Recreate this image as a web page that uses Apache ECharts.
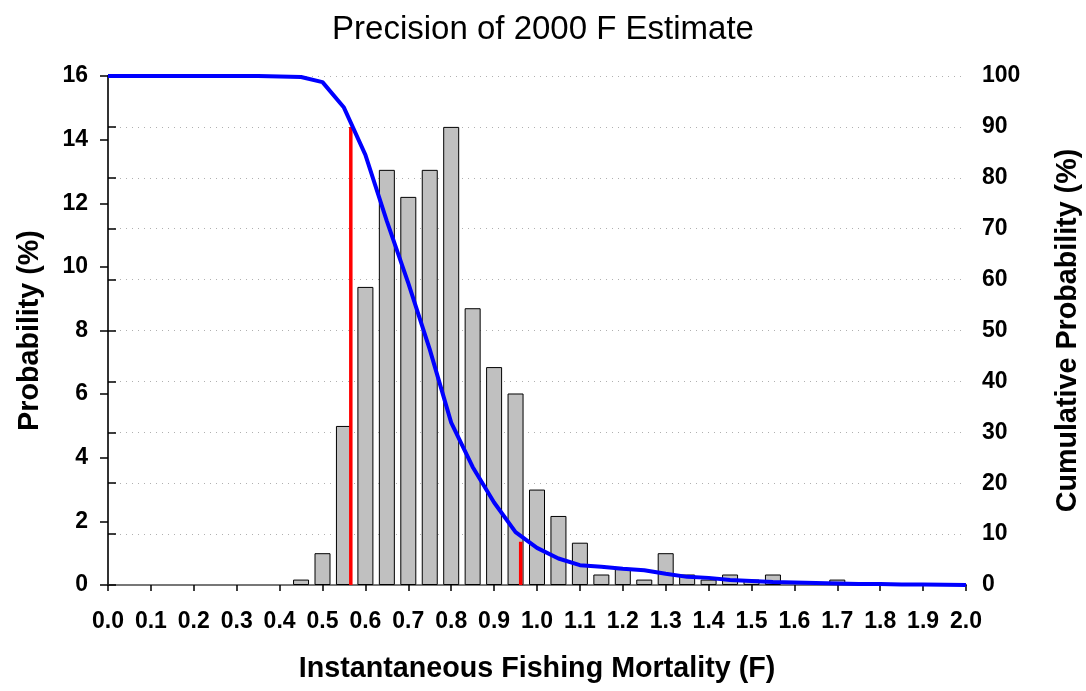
<!DOCTYPE html>
<html>
<head>
<meta charset="utf-8">
<script src="https://cdn.jsdelivr.net/npm/echarts@6/dist/echarts.min.js"></script>
<style>
html,body{margin:0;padding:0;background:#fff;}
#chart{width:1086px;height:691px;}
</style>
</head>
<body>
<div id="chart"></div>
<script>
// Histogram bins (F) and probability (%)
var binF = [0.45, 0.50, 0.55, 0.60, 0.65, 0.70, 0.75, 0.80, 0.85, 0.90, 0.95, 1.00, 1.05, 1.10, 1.15, 1.20, 1.25, 1.30, 1.35, 1.40, 1.45, 1.50, 1.55, 1.70];
var binProb = [0.17, 1.0, 5.0, 9.37, 13.05, 12.2, 13.05, 14.4, 8.7, 6.85, 6.02, 3.0, 2.17, 1.33, 0.33, 0.5, 0.17, 1.0, 0.33, 0.17, 0.33, 0.17, 0.33, 0.17];
// Cumulative (exceedance) probability (%)
var cumF = [0.00, 0.05, 0.10, 0.15, 0.20, 0.25, 0.30, 0.35, 0.40, 0.45, 0.50, 0.55, 0.60, 0.65, 0.70, 0.75, 0.80, 0.85, 0.90, 0.95, 1.00, 1.05, 1.10, 1.15, 1.20, 1.25, 1.30, 1.35, 1.40, 1.45, 1.50, 1.55, 1.60, 1.65, 1.70, 1.75, 1.80, 1.85, 1.90, 1.95, 2.00];
var cumProb = [100, 100, 100, 100, 100, 100, 100, 100, 99.9, 99.8, 98.8, 93.8, 84.5, 71.5, 59.3, 46.3, 31.9, 23.2, 16.2, 10.4, 7.3, 5.2, 3.9, 3.6, 3.2, 2.9, 2.2, 1.6, 1.4, 1.0, 0.8, 0.6, 0.5, 0.4, 0.3, 0.2, 0.2, 0.1, 0.1, 0.05, 0.0];
// Confidence limits: [F, top on cumulative axis]
var lowerCI = [0.566, 90];
var upperCI = [0.962, 8.5];
var xTicksMin = 0, xTicksMax = 2.0, xInterval = 0.1;

var FONT = 'Liberation Sans, Arial, sans-serif';
var chart = echarts.init(document.getElementById('chart'), null, {renderer: 'canvas'});

var barData = binF.map(function (f, i) { return [f, binProb[i]]; });
var cumData = cumF.map(function (f, i) { return [f, cumProb[i]]; });

chart.setOption({
  animation: false,
  backgroundColor: '#ffffff',
  title: {
    text: 'Precision of 2000 F Estimate',
    left: 'center',
    top: 8,
    textStyle: {fontFamily: FONT, fontSize: 33, fontWeight: 'normal', color: '#000'}
  },
  grid: {left: 108, right: 120, top: 76, bottom: 106, outerBoundsMode: 'none', containLabel: false},
  xAxis: [{
    type: 'value',
    min: xTicksMin, max: xTicksMax, interval: xInterval,
    name: 'Instantaneous Fishing Mortality (F)',
    nameLocation: 'middle',
    nameGap: 70,
    nameTextStyle: {fontFamily: FONT, fontSize: 28.7, fontWeight: 'bold', color: '#000'},
    axisLine: {show: true, lineStyle: {color: '#000', width: 2}},
    axisTick: {show: true, inside: false, length: 6, lineStyle: {color: '#000', width: 1.5}},
    axisLabel: {fontFamily: FONT, fontSize: 23, fontWeight: 'bold', color: '#000', margin: 25,
      formatter: function (v) { return v.toFixed(1); }},
    splitLine: {show: false}
  }, {
    type: 'value', position: 'top',
    min: xTicksMin, max: xTicksMax,
    axisLine: {show: true, lineStyle: {color: '#777', width: 2}},
    axisTick: {show: false}, axisLabel: {show: false}, splitLine: {show: false}
  }],
  yAxis: [{
    type: 'value',
    min: 0, max: 16, interval: 2,
    position: 'left',
    name: 'Probability (%)',
    nameLocation: 'middle',
    nameRotate: 90,
    nameGap: 63,
    nameTextStyle: {fontFamily: FONT, fontSize: 28.7, fontWeight: 'bold', color: '#000'},
    axisLine: {show: true, lineStyle: {color: '#333', width: 2}},
    axisTick: {show: true, inside: false, length: 8, lineStyle: {color: '#000', width: 1.5}},
    axisLabel: {fontFamily: FONT, fontSize: 23, fontWeight: 'bold', color: '#000', margin: 20},
    splitLine: {show: false}
  }, {
    type: 'value',
    min: 0, max: 100, interval: 10,
    position: 'right',
    name: 'Cumulative Probability (%)',
    nameLocation: 'middle',
    nameRotate: 90,
    nameGap: 88,
    nameTextStyle: {fontFamily: FONT, fontSize: 28.7, fontWeight: 'bold', color: '#000'},
    axisLine: {show: true, lineStyle: {color: '#333', width: 2}},
    axisTick: {show: true, inside: false, length: 8, lineStyle: {color: '#000', width: 1.5}},
    axisLabel: {fontFamily: FONT, fontSize: 23, fontWeight: 'bold', color: '#000', margin: 16},
    splitLine: {show: true, lineStyle: {color: '#b0b0b0', width: 1, type: [1, 5]}}
  }],
  series: [{
    type: 'bar',
    xAxisIndex: 0, yAxisIndex: 0,
    data: barData,
    barWidth: 16,
    itemStyle: {color: '#c0c0c0', borderColor: '#000', borderWidth: 1},
    z: 2
  }, {
    type: 'line',
    xAxisIndex: 0, yAxisIndex: 1,
    data: [[lowerCI[0], 0], [lowerCI[0], lowerCI[1]]],
    symbol: 'none',
    lineStyle: {color: '#ff0000', width: 3.5},
    z: 3
  }, {
    type: 'line',
    xAxisIndex: 0, yAxisIndex: 1,
    data: [[upperCI[0], 0], [upperCI[0], upperCI[1]]],
    symbol: 'none',
    lineStyle: {color: '#ff0000', width: 3.5},
    z: 3
  }, {
    type: 'line',
    xAxisIndex: 0, yAxisIndex: 1,
    data: cumData,
    symbol: 'none',
    lineStyle: {color: '#0000ff', width: 4},
    z: 4
  }]
});
</script>
</body>
</html>
